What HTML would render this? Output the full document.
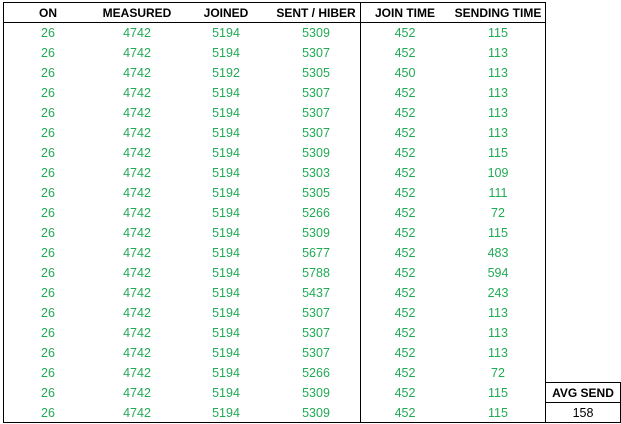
<!DOCTYPE html>
<html><head><meta charset="utf-8"><style>
body{margin:0;width:621px;height:424px;background:#fff;overflow:hidden;position:relative;font-family:"Liberation Sans",sans-serif}
.c{position:absolute;transform:translateX(-50%);white-space:nowrap;line-height:20px;font-size:12.5px}
.h{font-weight:bold;font-size:12px;color:#000}
.g{color:#22aa55}
.l{position:absolute;background:#000}
</style></head><body>
<div class="l" style="left:3px;top:2px;width:542px;height:1px"></div>
<div class="l" style="left:3px;top:22px;width:542px;height:1px"></div>
<div class="l" style="left:3px;top:422px;width:618px;height:1px"></div>
<div class="l" style="left:3px;top:2px;width:1px;height:421px"></div>
<div class="l" style="left:360px;top:2px;width:1px;height:421px"></div>
<div class="l" style="left:545px;top:2px;width:1px;height:421px"></div>
<div class="l" style="left:545px;top:382px;width:76px;height:1px"></div>
<div class="l" style="left:545px;top:402px;width:76px;height:1px"></div>
<div class="l" style="left:620px;top:382px;width:1px;height:41px"></div>
<div class="c h" style="left:583px;top:383px">AVG SEND</div>
<div class="c" style="left:583px;top:403px;color:#000">158</div>
<script>
const headers=["ON","MEASURED","JOINED","SENT / HIBER","JOIN TIME","SENDING TIME"];
const colOn=[26,26,26,26,26,26,26,26,26,26,26,26,26,26,26,26,26,26,26,26];
const colMeasured=[4742,4742,4742,4742,4742,4742,4742,4742,4742,4742,4742,4742,4742,4742,4742,4742,4742,4742,4742,4742];
const colJoined=[5194,5194,5192,5194,5194,5194,5194,5194,5194,5194,5194,5194,5194,5194,5194,5194,5194,5194,5194,5194];
const colSent=[5309,5307,5305,5307,5307,5307,5309,5303,5305,5266,5309,5677,5788,5437,5307,5307,5307,5266,5309,5309];
const colJoinTime=[452,452,450,452,452,452,452,452,452,452,452,452,452,452,452,452,452,452,452,452];
const colSendTime=[115,113,113,113,113,113,115,109,111,72,115,483,594,243,113,113,113,72,115,115];
const centers=[48,137,226,316,405,498];
const cols=[colOn,colMeasured,colJoined,colSent,colJoinTime,colSendTime];
const names=["on","measured","joined","sent-hiber","join-time","sending-time"];
headers.forEach((h,i)=>{
  const d=document.createElement('div');d.className='c h';d.textContent=h;
  d.style.left=centers[i]+'px';d.style.top='3px';
  
  
  document.body.appendChild(d);
});
cols.forEach((col,i)=>col.forEach((v,r)=>{
  const d=document.createElement('div');d.className='c g';d.textContent=v;
  d.style.left=centers[i]+'px';d.style.top=(23+r*20)+'px';
  
  
  document.body.appendChild(d);
}));
</script>
</body></html>
